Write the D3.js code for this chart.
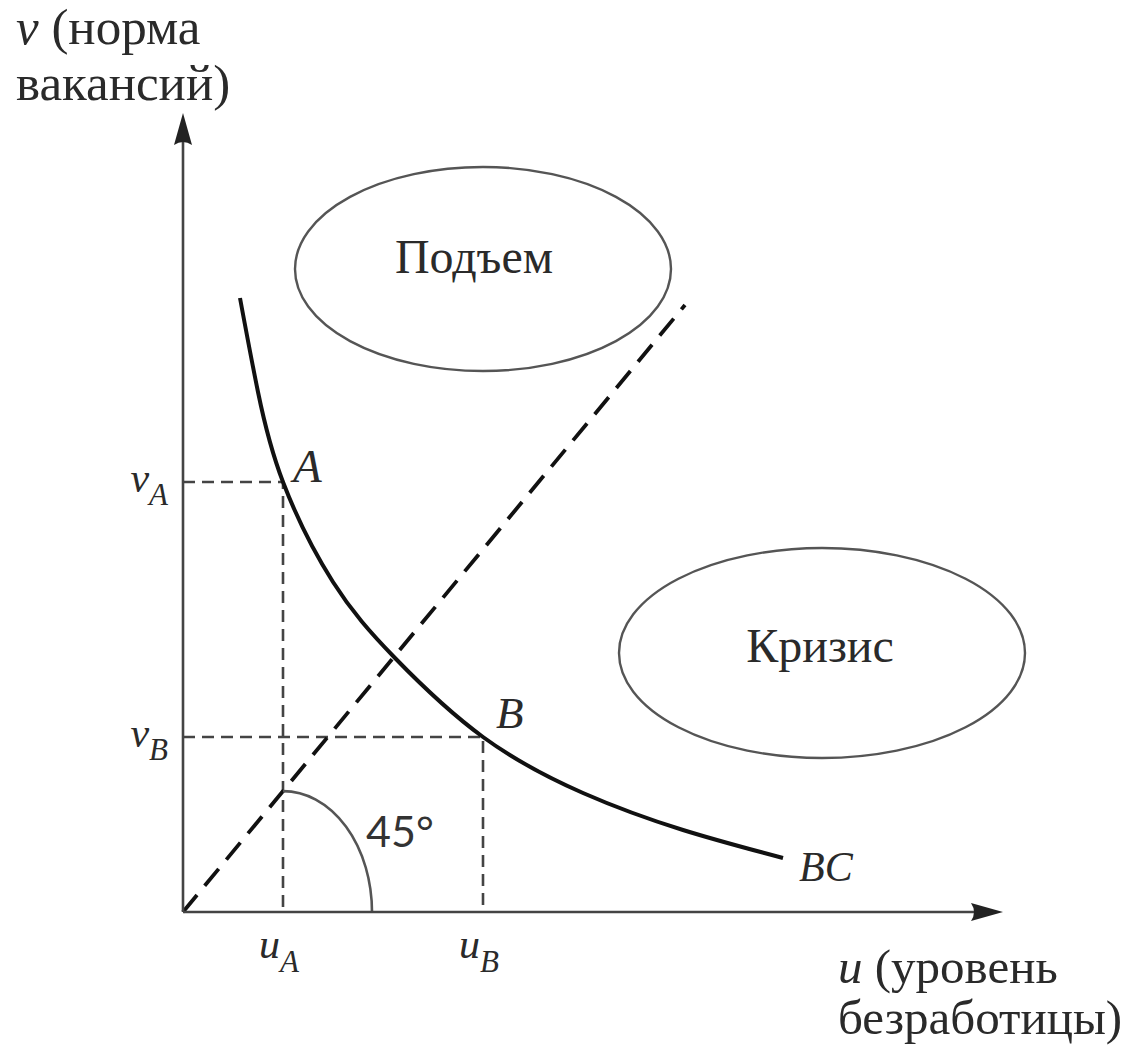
<!DOCTYPE html>
<meta charset="utf-8">
<style>
* { margin: 0; padding: 0; }
body { background: #fff; }
svg { display: block; }
.serif { font-family: "Liberation Serif", serif; fill: #2a2a2a; }
.it { font-style: italic; }
</style>
<body>
<script src="https://d3js.org/d3.v7.min.js"></script>
<script>

// curve BC (u, v)
var curveU = [0.57, 0.75, 1.0, 1.5, 2.12, 3.0, 4.0, 5.0, 6.0];
var curveV = [6.14, 5.2, 4.3, 3.3, 2.54, 1.75, 1.19, 0.82, 0.54];

// marked points on the curve
var pointNames = ["A", "B"];
var pointU = [1.0, 3.0];
var pointV = [4.3, 1.75];

// 45 degree line end
var diagU = [0, 5.02];
var diagV = [0, 6.07];

// regions
var regionNames = ["Подъем", "Кризис"];
var regionU = [3.0, 6.39];
var regionV = [6.43, 2.59];
var regionRu = [1.88, 2.03];
var regionRv = [1.02, 1.05];

var width = 1131,
    height = 1048;

var x = d3.scaleLinear().domain([0, 8.2]).range([183, 1003]);
var y = d3.scaleLinear().domain([0, 7.99]).range([912, 113]);

var svg = d3.select("body").append("svg")
    .attr("width", width)
    .attr("height", height);

// ellipses
var labelShift = [-9, -2];
regionNames.forEach(function(name, i) {
	svg.append("ellipse")
	    .attr("cx", x(regionU[i]))
	    .attr("cy", y(regionV[i]))
	    .attr("rx", x(regionRu[i]) - x(0))
	    .attr("ry", y(0) - y(regionRv[i]))
	    .attr("fill", "none")
	    .attr("stroke", "#555")
	    .attr("stroke-width", 2.4);

	svg.append("text")
	    .attr("class", "serif")
	    .attr("x", x(regionU[i]) + labelShift[i])
	    .attr("y", y(regionV[i]) + (i == 0 ? 4 : 9))
	    .attr("text-anchor", "middle")
	    .attr("font-size", 48)
	    .text(name);
});

// guide lines
pointNames.forEach(function(name, i) {
	svg.append("path")
	    .attr("d", "M" + x(0) + "," + y(pointV[i]) + "H" + x(pointU[i]) + "V" + y(0))
	    .attr("fill", "none")
	    .attr("stroke", "#444")
	    .attr("stroke-width", 2.6)
	    .attr("stroke-dasharray", "12,7");
});

// 45 degree line
svg.append("line")
    .attr("x1", x(diagU[0])).attr("y1", y(diagV[0]))
    .attr("x2", x(diagU[1])).attr("y2", y(diagV[1]))
    .attr("stroke", "#111")
    .attr("stroke-width", 3.8)
    .attr("stroke-dasharray", "22,12");

// angle arc
var arcStartY = y(diagV[1] / diagU[1] * pointU[0]);
svg.append("path")
    .attr("d", "M" + x(pointU[0]) + "," + arcStartY +
               "A" + (x(1.89) - x(1.0)) + "," + (y(0) - arcStartY) + " 0 0 1 " + x(1.89) + "," + y(0))
    .attr("fill", "none")
    .attr("stroke", "#555")
    .attr("stroke-width", 2.6);

svg.append("text")
    .attr("x", 366)
    .attr("y", 847)
    .attr("font-family", "Lato, sans-serif")
    .attr("font-size", 43)
    .attr("fill", "#333")
    .text("45°");

// curve BC
var line = d3.line()
    .x(function(d) { return x(d[0]); })
    .y(function(d) { return y(d[1]); })
    .curve(d3.curveNatural);

svg.append("path")
    .datum(curveU.map(function(u, i) { return [u, curveV[i]]; }))
    .attr("d", line)
    .attr("fill", "none")
    .attr("stroke", "#111")
    .attr("stroke-width", 4);

// axes
svg.append("line")
    .attr("x1", x(0)).attr("y1", y(0))
    .attr("x2", x(0)).attr("y2", y(7.99) + 20)
    .attr("stroke", "#444").attr("stroke-width", 2.6);
svg.append("line")
    .attr("x1", x(0)).attr("y1", y(0))
    .attr("x2", x(8.2) - 20).attr("y2", y(0))
    .attr("stroke", "#444").attr("stroke-width", 2.6);

// arrow heads
var ax = x(0), ay = y(7.99);
svg.append("path")
    .attr("d", "M" + ax + "," + ay + "L" + (ax + 9) + "," + (ay + 32) + "Q" + ax + "," + (ay + 26) + " " + (ax - 9) + "," + (ay + 32) + "Z")
    .attr("fill", "#222");
var bx = x(8.2), by = y(0);
svg.append("path")
    .attr("d", "M" + bx + "," + by + "L" + (bx - 32) + "," + (by - 9) + "Q" + (bx - 26) + "," + by + " " + (bx - 32) + "," + (by + 9) + "Z")
    .attr("fill", "#222");

// point labels
svg.append("text").attr("class", "serif it")
    .attr("x", x(pointU[0]) + 10).attr("y", y(pointV[0]))
    .attr("font-size", 47).text(pointNames[0]);
svg.append("text").attr("class", "serif it")
    .attr("x", x(pointU[1]) + 13).attr("y", y(pointV[1]) - 9)
    .attr("font-size", 45).text(pointNames[1]);
svg.append("text").attr("class", "serif it")
    .attr("x", x(curveU[curveU.length - 1]) + 16).attr("y", y(curveV[curveV.length - 1]) + 23)
    .attr("font-size", 42).text("BC");

// tick labels v_A, v_B, u_A, u_B
pointNames.forEach(function(name, i) {
	var tv = svg.append("text").attr("class", "serif it")
	    .attr("x", x(0) - 15).attr("y", y(pointV[i]) + 10)
	    .attr("text-anchor", "end")
	    .attr("font-size", 42);
	tv.append("tspan").text("v");
	tv.append("tspan").attr("font-size", 31).attr("dy", 13).text(name);

	var tu = svg.append("text").attr("class", "serif it")
	    .attr("x", x(pointU[i]) - 24).attr("y", 958)
	    .attr("font-size", 42);
	tu.append("tspan").text("u");
	tu.append("tspan").attr("font-size", 31).attr("dy", 14).text(name);
});

// axis titles
var yt = svg.append("text").attr("class", "serif").attr("font-size", 51);
yt.append("tspan").attr("x", 16).attr("y", 44).attr("font-style", "italic").text("v");
yt.append("tspan").text(" (норма");
svg.append("text").attr("class", "serif").attr("font-size", 51)
    .attr("x", 16).attr("y", 100).text("вакансий)");

var xt = svg.append("text").attr("class", "serif").attr("font-size", 49);
xt.append("tspan").attr("x", 838).attr("y", 983).attr("font-style", "italic").text("u");
xt.append("tspan").text(" (уровень");
svg.append("text").attr("class", "serif").attr("font-size", 49)
    .attr("x", 838).attr("y", 1034).text("безработицы)");

</script>
</body>
